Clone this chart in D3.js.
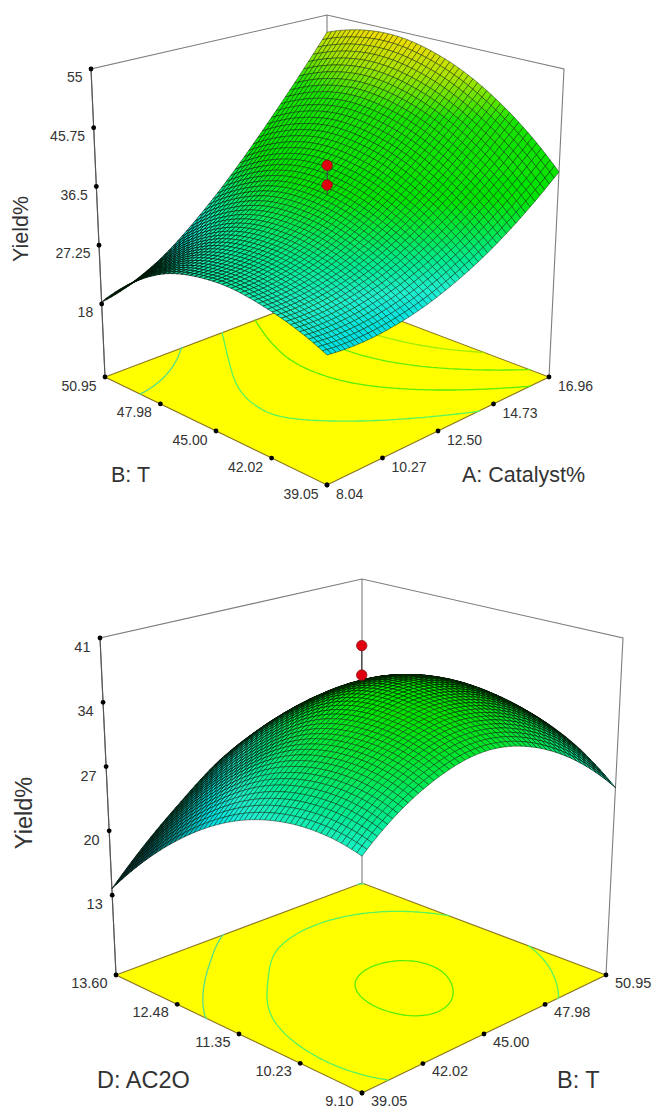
<!DOCTYPE html>
<html>
<head>
<meta charset="utf-8">
<script src="https://cdn.jsdelivr.net/npm/d3@7"></script>
<style>html,body{margin:0;padding:0;background:#fff}svg{display:block}text{font-family:"Liberation Sans",Arial,sans-serif;fill:#333}</style>
</head>
<body>
<svg id="c" width="654" height="1106"></svg>
<script>
// ---- data ----
const catalystTicks = ["8.04","10.27","12.50","14.73","16.96"];
const tempTicks = ["39.05","42.02","45.00","47.98","50.95"];
const ac2oTicks = ["9.10","10.23","11.35","12.48","13.60"];
const yieldTicksTop = ["18","27.25","36.5","45.75","55"];
const yieldTicksBottom = ["13","20","27","34","41"];
// rows: second factor tick, columns: first factor tick
const yieldCatalystTemp = [
  [25.0,24.9,27.0,31.5,38.8],
  [28.0,28.8,32.2,38.2,46.9],
  [28.9,30.4,35.0,42.3,52.2],
  [26.3,28.6,34.4,43.1,54.2],
  [18.3,21.7,29.0,39.3,52.0]
];
const yieldTempAc2o = [
  [27.6,32.2,33.7,31.1,24.7],
  [28.3,33.8,36.3,34.7,29.3],
  [26.3,32.4,36.2,35.5,30.7],
  [21.4,27.3,32.0,32.5,28.8],
  [13.7,20.0,25.0,26.2,23.8]
];
const pointsTop = [40.7,37.6];
const pointsBottom = [40.8,37.6];
const contoursTop = [24,30,36,42,48];
const contoursBottom = [24,30,36];
const colorStopsZ = [13,18,21,25,27.5,30,33,36,45,50,54];
const colorStopsC = ["#002040","#004860","#008890","#00e0e8","#20f0d0","#00ec90","#00e840","#00e400","#18e400","#a8e400","#f4dc00"];

const color = d3.scaleLinear().domain(colorStopsZ).range(colorStopsC).interpolate(d3.interpolateRgb).clamp(true);
const svg = d3.select("#c");
const defs = svg.append("defs");
defs.append("filter").attr("id","soft").attr("x","-5%").attr("y","-5%").attr("width","110%").attr("height","110%")
  .append("feGaussianBlur").attr("stdDeviation",0.25);

function cr(a,b,c,d,t){return 0.5*((2*b)+(-a+c)*t+(2*a-5*b+4*c-d)*t*t+(-a+3*b-3*c+d)*t*t*t);}
function seg(arr,s){
  const n=arr.length-1, x=Math.min(Math.max(s,0),1)*n, i=Math.min(Math.floor(x),n-1), t=x-i;
  const g=k=>k<0?3*arr[0]-3*arr[1]+arr[2]:k>n?3*arr[n]-3*arr[n-1]+arr[n-2]:arr[k];
  return cr(g(i-1),g(i),g(i+1),g(i+2),t);
}
function sample(grid,u,v){ return seg(grid.map(r=>seg(r,u)),v); }

function drawPanel(o){
  const g=svg.append("g");
  const uS=d3.scaleLinear().domain([+o.uTicks[0],+o.uTicks[4]]).range([0,1]);
  const vS=d3.scaleLinear().domain([+o.vTicks[0],+o.vTicks[4]]).range([0,1]);
  const zS=d3.scaleLinear().domain([+o.zTicks[0],+o.zTicks[4]]).range([o.zBase,1]);
  const bil=(C,u,v)=>[0,1].map(k=>(1-u)*(1-v)*C[0][k]+u*(1-v)*C[1][k]+u*v*C[2][k]+(1-u)*v*C[3][k]);
  const P=(u,v,w)=>{const f=bil(o.F,u,v),t=bil(o.T,u,v);return [f[0]+(t[0]-f[0])*w,f[1]+(t[1]-f[1])*w];};
  const line=d3.line();
  const box=(pts,c,sw)=>g.append("path").attr("d",line(pts)).attr("fill","none").attr("stroke",c).attr("stroke-width",sw);
  // box frame
  box([P(0,1,0),P(0,1,1),P(1,1,1),P(1,0,1),P(1,0,0)],"#7d7d7d",1.1);
  box([P(0,1,0),P(0,1,1)],"#555",1.1);
  box([P(1,1,1),P(1,1,0)],"#7d7d7d",1.1);
  // floor
  g.append("path").attr("d",line([P(0,0,0),P(1,0,0),P(1,1,0),P(0,1,0)])+"Z").attr("fill","#ffff00").attr("stroke","#8a7420").attr("stroke-width",1.1);
  // contours
  const n=101, vals=new Array(n*n);
  for(let j=0;j<n;j++)for(let i=0;i<n;i++)vals[i+j*n]=sample(o.grid,i/(n-1),j/(n-1));
  const cs=d3.contours().size([n,n]).thresholds(o.levels)(vals);
  const cl=x=>Math.min(Math.max((x-0.5)/(n-1),0),1);
  cs.forEach(c=>{
    const col=d3.interpolateRgb(color(c.value),"#ffff00")(0.35);
    let d="";
    c.coordinates.forEach(poly=>poly.forEach(ring=>{
      let pen=false;
      for(let k=1;k<ring.length;k++){
        const a=ring[k-1],b=ring[k];
        const edge=(a[0]===b[0]&&(a[0]===0||a[0]===n))||(a[1]===b[1]&&(a[1]===0||a[1]===n));
        if(edge){pen=false;continue;}
        const pa=P(cl(a[0]),cl(a[1]),0),pb=P(cl(b[0]),cl(b[1]),0);
        if(!pen){d+="M"+pa[0].toFixed(1)+","+pa[1].toFixed(1);pen=true;}
        d+="L"+pb[0].toFixed(1)+","+pb[1].toFixed(1);
      }
    }));
    g.append("path").attr("d",d).attr("fill","none").attr("stroke",col).attr("stroke-width",1.3);
  });
  // surface
  const N=50, cells=[];
  const Z=d3.range(N+1).map(j=>d3.range(N+1).map(i=>sample(o.grid,i/N,j/N)));
  for(let j=0;j<N;j++)for(let i=0;i<N;i++)cells.push({i,j,z:(Z[j][i]+Z[j][i+1]+Z[j+1][i]+Z[j+1][i+1])/4});
  cells.sort((a,b)=>(b.i+b.j)-(a.i+a.j));
  const S=(i,j)=>P(i/N,j/N,zS(Z[j][i]));
  const poly=c=>[S(c.i,c.j),S(c.i+1,c.j),S(c.i+1,c.j+1),S(c.i,c.j+1)];
  const lineW=d3.scaleLinear().domain([3,26]).range([1.05,0.55]).clamp(true);
  const sg=g.append("g").attr("filter","url(#soft)");
  sg.selectAll("path").data(cells).join("path")
    .attr("d",c=>line(poly(c))+"Z")
    .attr("fill",c=>color(c.z)).attr("stroke","#001400")
    .attr("stroke-width",c=>lineW(Math.abs(d3.polygonArea(poly(c))))).attr("stroke-opacity",0.8);
  // design points
  const c0=P(0.5,0.5,zS(o.points[1])),c1=P(0.5,0.5,zS(o.points[0]));
  box([[c0[0],c0[1]+o.stub],c1],"#444",1.2);
  o.points.forEach(z=>{const p=P(0.5,0.5,zS(z));
    g.append("circle").attr("cx",p[0]).attr("cy",p[1]).attr("r",5.2).attr("fill","#e00010").attr("stroke","#8a1010").attr("stroke-width",0.8);});
  // ticks and labels
  const dot=p=>g.append("circle").attr("cx",p[0]).attr("cy",p[1]).attr("r",2.4).attr("fill","#000");
  const lab=(t,x,y,a)=>g.append("text").attr("x",x).attr("y",y).attr("text-anchor",a).attr("font-size",o.tickSize).text(t);
  o.zTicks.forEach(t=>{const p=P(0,1,zS(+t));dot(p);lab(t,p[0]-o.zDx,p[1]+o.zDy,"end");});
  o.vTicks.forEach(t=>{const p=P(0,vS(+t),0);dot(p);lab(t,p[0]-8.5,p[1]+o.fDy,"end");});
  o.uTicks.forEach(t=>{const p=P(uS(+t),0,0);dot(p);lab(t,p[0]+9,p[1]+o.fDy,"start");});
  o.titles.forEach(t=>g.append("text").attr("x",t[1]).attr("y",t[2]).attr("font-size",o.titleSize).text(t[0]));
  g.append("text").attr("transform",`translate(${o.yX},${o.yY}) rotate(-90)`).attr("text-anchor","middle").attr("font-size",o.titleSize).text("Yield%");
}

drawPanel({
  uTicks:catalystTicks, vTicks:tempTicks, zTicks:yieldTicksTop, grid:yieldCatalystTemp,
  points:pointsTop, levels:contoursTop, zBase:0.237, stub:9,
  F:[[327,485],[549,377],[327,293],[105,377]], T:[[327,144],[564,69],[327,15],[91,69]],
  tickSize:14, titleSize:21.5, zDx:8.5, zDy:13, fDy:13.5,
  titles:[["B: T",111,482],["A: Catalyst%",462,482]], yX:28, yY:229
});
drawPanel({
  uTicks:tempTicks, vTicks:ac2oTicks, zTicks:yieldTicksBottom, grid:yieldTempAc2o,
  points:pointsBottom, levels:contoursBottom, zBase:0.237, stub:0,
  F:[[362,1093],[606,975],[362,883],[116,975]], T:[[362,720],[623,638],[362,579],[100,638]],
  tickSize:14.5, titleSize:23.5, zDx:9.5, zDy:14, fDy:12.5,
  titles:[["D: AC2O",97,1088],["B: T",557,1088]], yX:32, yY:813
});
</script>
</body>
</html>
